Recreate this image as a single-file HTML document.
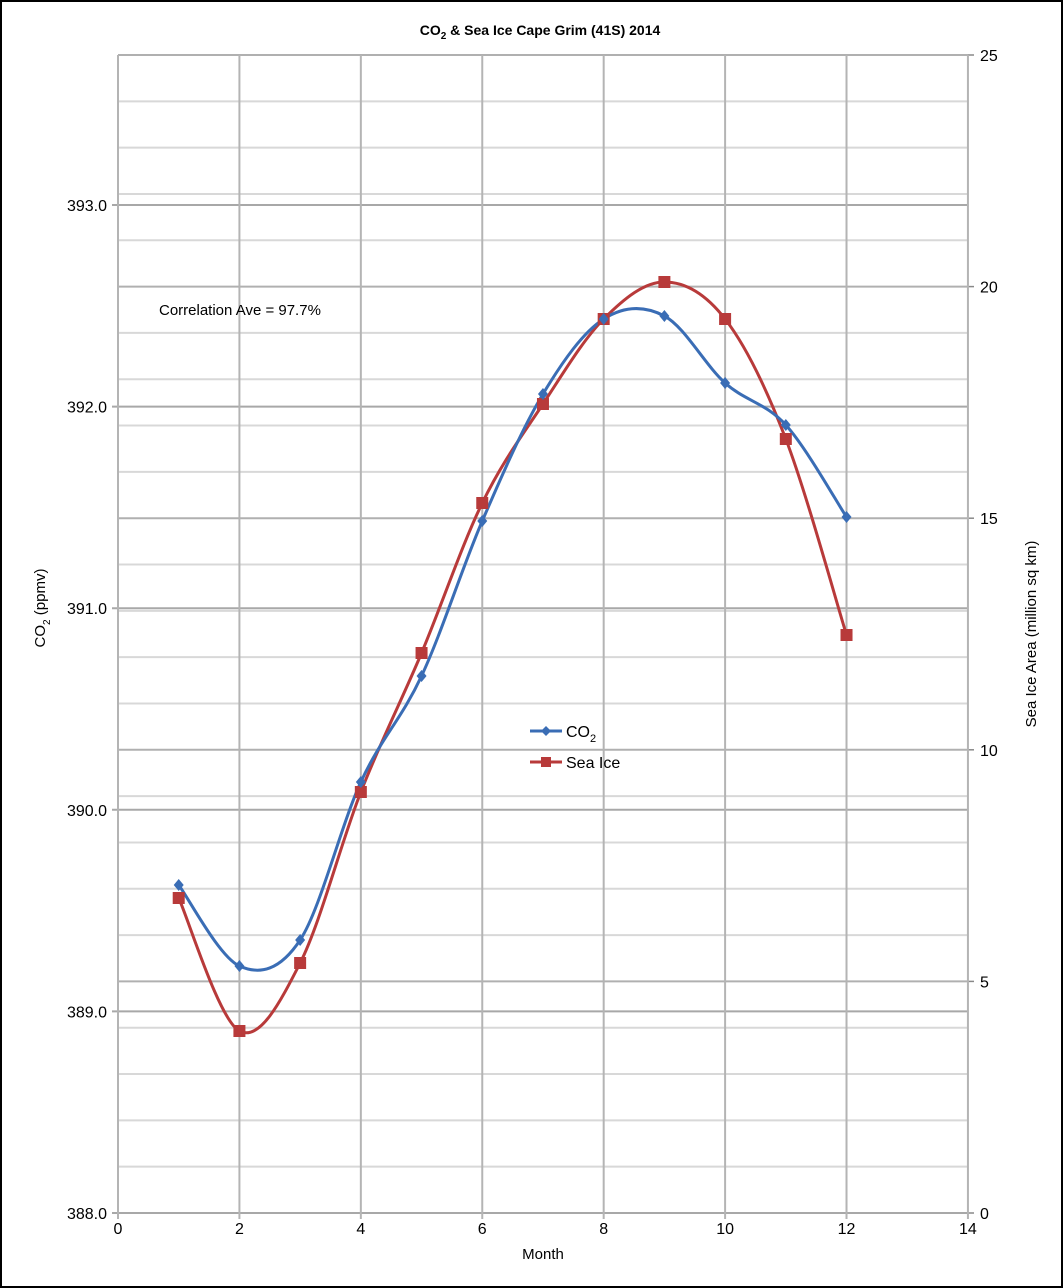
<!DOCTYPE html>
<html><head><meta charset="utf-8"><style>
html,body{margin:0;padding:0;background:#fff}
svg{display:block;font-family:"Liberation Sans",Arial,sans-serif}
</style></head><body>
<svg id="s" width="1063" height="1288" viewBox="0 0 1063 1288" xmlns="http://www.w3.org/2000/svg">
<rect x="1" y="1" width="1061" height="1286" fill="#fff" stroke="#000" stroke-width="2"/>
<g id="grid"></g>
<text x="540" y="35" text-anchor="middle" font-size="14" font-weight="bold">CO<tspan font-size="10" dy="4">2</tspan><tspan dy="-4"> &amp; Sea Ice Cape Grim (41S) 2014</tspan></text>
<text x="159" y="315" font-size="15">Correlation Ave = 97.7%</text>
<g id="series"></g>
<line x1="530" y1="731" x2="562" y2="731" stroke="#3a6db5" stroke-width="3"/>
<path d="M546 726 L551 731 L546 736 L541 731Z" fill="#3a6db5"/>
<text x="566" y="737" font-size="16">CO<tspan font-size="11" dy="5">2</tspan></text>
<line x1="530" y1="762" x2="562" y2="762" stroke="#b83a3a" stroke-width="3"/>
<rect x="541" y="757" width="10" height="10" fill="#b83a3a"/>
<text x="566" y="768" font-size="16">Sea Ice</text>
<text x="543" y="1259" text-anchor="middle" font-size="15">Month</text>
<text transform="translate(45,608) rotate(-90)" text-anchor="middle" font-size="15">CO<tspan font-size="10" dy="5">2</tspan><tspan dy="-5"> (ppmv)</tspan></text>
<text transform="translate(1036,634) rotate(-90)" text-anchor="middle" font-size="15">Sea Ice Area (million sq km)</text>
</svg>
<script>
var NS="http://www.w3.org/2000/svg",g=document.getElementById('grid'),se=document.getElementById('series');
function el(p,t,a,txt){var e=document.createElementNS(NS,t);for(var k in a)e.setAttribute(k,a[k]);if(txt!=null)e.textContent=txt;p.appendChild(e);return e;}
var X0=118,XS=60.71,TOP=55,BOT=1213;
for(var i=0;i<=25;i++){var y=BOT-i*(BOT-TOP)/25;el(g,'line',{x1:X0,x2:968,y1:y,y2:y,stroke:i%5==0?'#b0b0b0':'#d8d8d8','stroke-width':2});
 if(i%5==0){el(g,'text',{x:980,y:y+6,'font-size':16},String(i));el(g,'line',{x1:968,x2:974,y1:y,y2:y,stroke:'#888','stroke-width':1.5});}}
for(var i=0;i<=5;i++){var y=BOT-i*201.6;el(g,'line',{x1:X0-6,x2:968,y1:y,y2:y,stroke:'#a8a8a8','stroke-width':2});
 el(g,'text',{x:107,y:y+6,'font-size':16,'text-anchor':'end'},(388+i).toFixed(1));}
for(var m=0;m<=14;m+=2){var x=X0+m*XS;el(g,'line',{x1:x,x2:x,y1:TOP,y2:BOT+6,stroke:'#b4b4b4','stroke-width':2});
 el(g,'text',{x:x,y:1234,'font-size':16,'text-anchor':'middle'},String(m));}
function pts(ys){return ys.map(function(y,i){return [X0+(i+1)*XS,y];});}
function path(p){var d='M'+p[0][0]+' '+p[0][1];for(var i=0;i<p.length-1;i++){var p0=p[i-1]||p[i],p1=p[i],p2=p[i+1],p3=p[i+2]||p2;
 d+=' C'+(p1[0]+(p2[0]-p0[0])/6)+' '+(p1[1]+(p2[1]-p0[1])/6)+' '+(p2[0]-(p3[0]-p1[0])/6)+' '+(p2[1]-(p3[1]-p1[1])/6)+' '+p2[0]+' '+p2[1];}return d;}
var co=pts([885,966,940,782,676,521,394,319,316,383,425,517]);
var ice=pts([898,1031,963,792,653,503,404,319,282,319,439,635]);
el(se,'path',{d:path(ice),fill:'none',stroke:'#b83a3a','stroke-width':3});
el(se,'path',{d:path(co),fill:'none',stroke:'#3a6db5','stroke-width':3});
ice.forEach(function(p){el(se,'rect',{x:p[0]-6,y:p[1]-6,width:12,height:12,fill:'#b83a3a'});});
co.forEach(function(p){el(se,'path',{d:'M'+p[0]+' '+(p[1]-6)+' L'+(p[0]+5)+' '+p[1]+' L'+p[0]+' '+(p[1]+6)+' L'+(p[0]-5)+' '+p[1]+'Z',fill:'#3a6db5'});});
</script>
</body></html>
